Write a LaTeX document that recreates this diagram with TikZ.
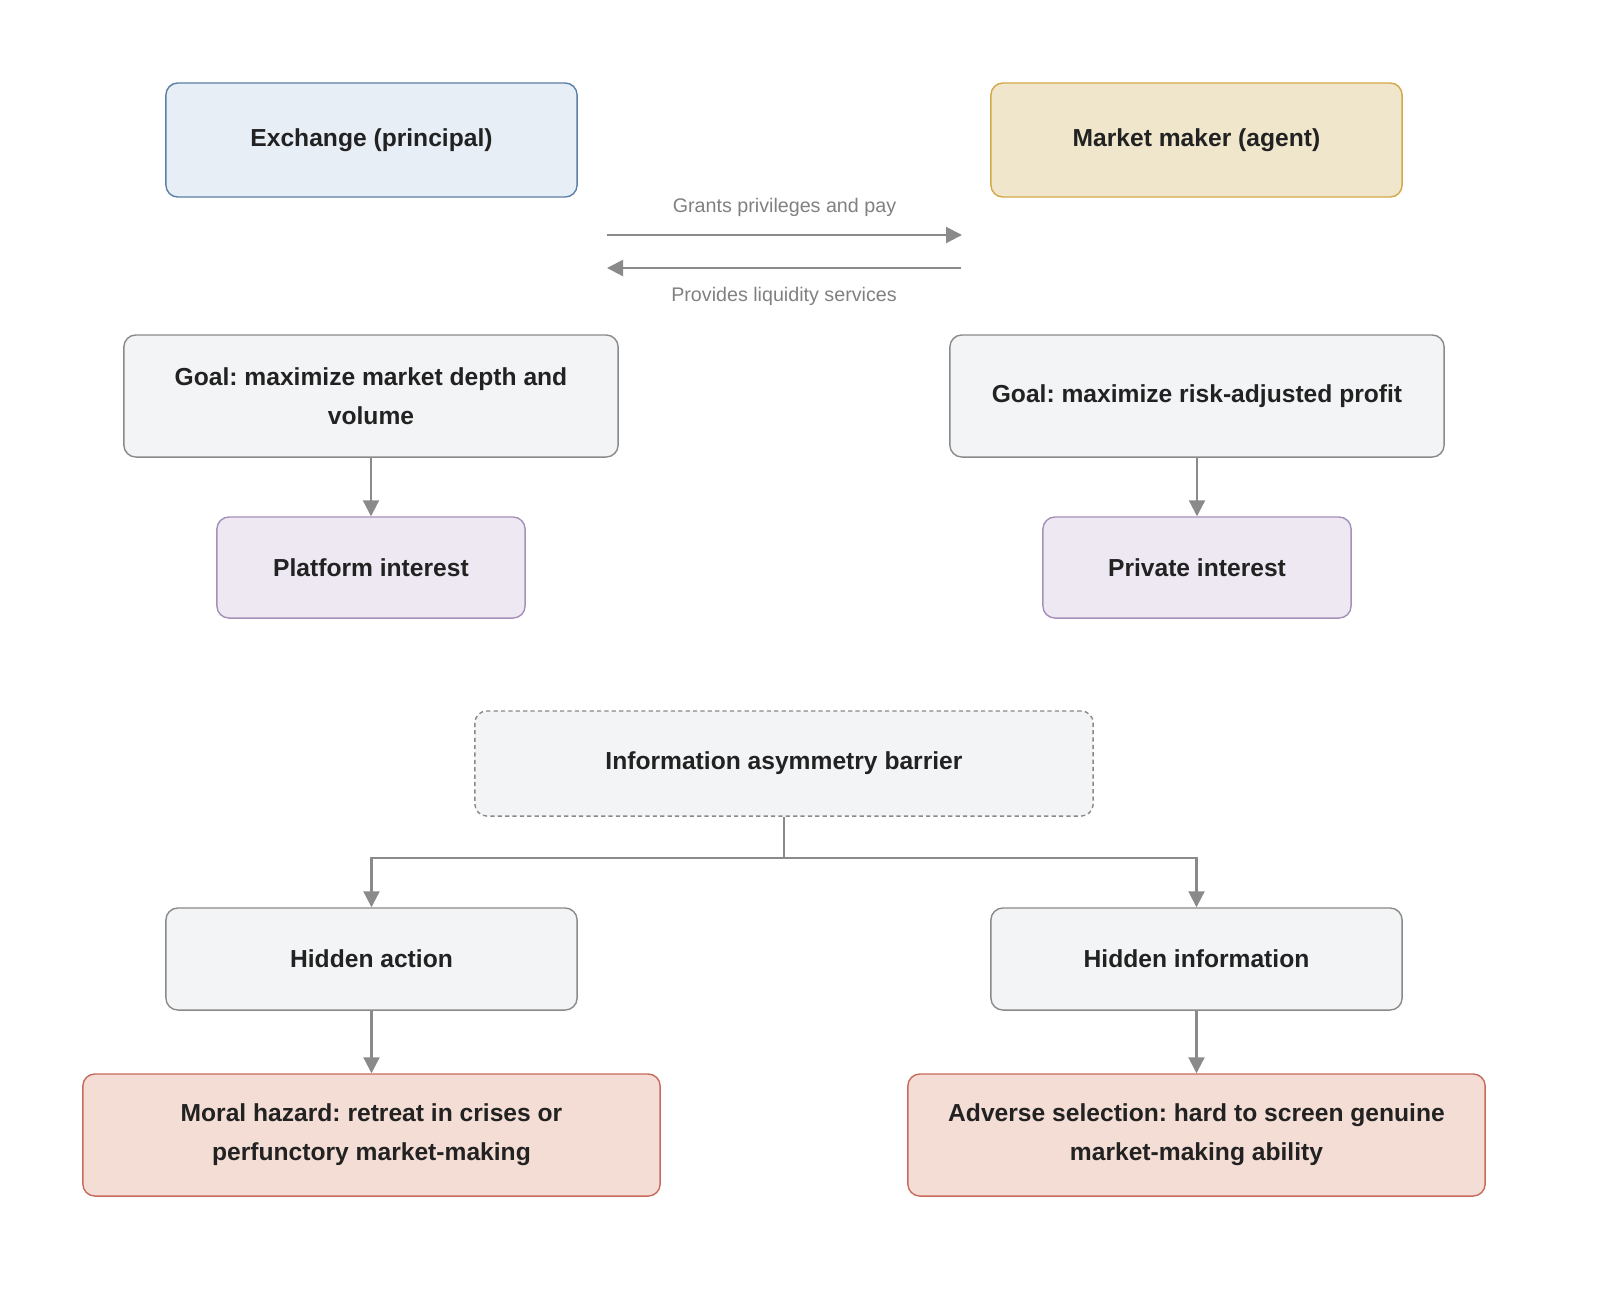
\documentclass[tikz,border=0pt]{standalone}
\usepackage{fontspec}
\setmainfont{Liberation Sans}
\usepackage{xcolor}
\usetikzlibrary{arrows.meta, positioning}
\frenchspacing
\definecolor{exfill}{HTML}{E7EEF6}
\definecolor{exline}{HTML}{5B7FA6}
\definecolor{mmfill}{HTML}{F0E6CC}
\definecolor{mmline}{HTML}{D2A948}
\definecolor{grfill}{HTML}{F3F4F6}
\definecolor{grline}{HTML}{8A8A8A}
\definecolor{pufill}{HTML}{EEE8F2}
\definecolor{puline}{HTML}{A690B9}
\definecolor{rdfill}{HTML}{F3DDD5}
\definecolor{rdline}{HTML}{C66B5B}
\definecolor{txt}{HTML}{222222}
\tikzset{
    box/.style={draw, rounded corners=1.2mm, line width=0.4pt, align=center,
        font=\fontsize{7}{11}\selectfont\bfseries, text=txt, inner sep=0pt},
    flow/.style={-{Triangle[length=1.6mm,width=1.6mm]}, draw=grline, line width=0.6pt},
    lbl/.style={font=\fontsize{5.6}{7}\selectfont, text=gray}
}
\begin{document}
\begin{tikzpicture}[x=0.01cm, y=-0.01cm]
                        \useasboundingbox (0, 0) rectangle (1600, 1305);

                        \node[box, fill=exfill, draw=exline, minimum width=4.11cm, minimum height=1.14cm] (ex) at (371.5, 140) {Exchange (principal)};
                        \node[box, fill=mmfill, draw=mmline, minimum width=4.11cm, minimum height=1.14cm] (mm) at (1196.5, 140) {Market maker (agent)};

                        \coordinate (gl) at (607, 235);
                        \coordinate (gr) at (962, 235);
                        \coordinate (pr) at (961, 268);
                        \coordinate (pl) at (607, 268);
                        \draw[flow] (gl) -- node[lbl, above=0.6mm] {Grants privileges and pay} (gr);
                        \draw[flow] (pr) -- node[lbl, below=0.6mm] {Provides liquidity services} (pl);

                        \node[box, fill=grfill, draw=grline, minimum width=4.94cm, minimum height=1.22cm] (goalex) at (371, 396) {Goal: maximize market depth and\\volume};
                        \node[box, fill=grfill, draw=grline, minimum width=4.94cm, minimum height=1.22cm] (goalmm) at (1197, 396) {Goal: maximize risk-adjusted profit};

                        \node[box, fill=pufill, draw=puline, minimum width=3.08cm, minimum height=1.01cm] (plat) at (371, 567.5) {Platform interest};
                        \node[box, fill=pufill, draw=puline, minimum width=3.08cm, minimum height=1.01cm] (priv) at (1197, 567.5) {Private interest};

                        \node[box, fill=grfill, draw=grline, dash pattern=on 1.2pt off 0.9pt, minimum width=6.18cm, minimum height=1.05cm] (info) at (784, 763.5) {Information asymmetry barrier};

                        \node[box, fill=grfill, draw=grline, minimum width=4.11cm, minimum height=1.02cm] (hact) at (371.5, 959) {Hidden action};
                        \node[box, fill=grfill, draw=grline, minimum width=4.11cm, minimum height=1.02cm] (hinf) at (1196.5, 959) {Hidden information};

                        \node[box, fill=rdfill, draw=rdline, minimum width=5.77cm, minimum height=1.22cm] (moral) at (371.5, 1135) {Moral hazard: retreat in crises or\\perfunctory market-making};
                        \node[box, fill=rdfill, draw=rdline, minimum width=5.77cm, minimum height=1.22cm] (adverse) at (1196.5, 1135) {Adverse selection: hard to screen genuine\\market-making ability};

                        \draw[flow] (goalex) -- (plat);
                        \draw[flow] (goalmm) -- (priv);
                        \draw[flow] (info.south) -- ++(0, 41) -| (hact.north);
                        \draw[flow] (info.south) -- ++(0, 41) -| (hinf.north);
                        \draw[flow] (hact) -- (moral);
                        \draw[flow] (hinf) -- (adverse);
                    \end{tikzpicture}
\end{document}
